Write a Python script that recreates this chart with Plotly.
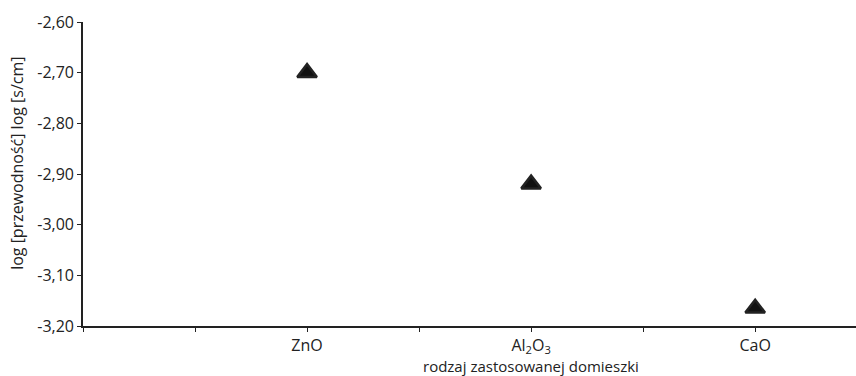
import plotly.graph_objects as go

# Dopants and measured log conductivity
dopants = ["ZnO", "Al<sub>2</sub>O<sub>3</sub>", "CaO"]
dopant_pos = [2, 4, 6]
log_conductivity = [-2.70, -2.92, -3.165]

# Axis ticks
y_ticks = [-3.20, -3.10, -3.00, -2.90, -2.80, -2.70, -2.60]
y_ticktext = [f"{v:.2f}".replace(".", ",") for v in y_ticks]

FONT = "Open Sans"
FS = 16

fig = go.Figure(
    go.Scatter(
        x=dopant_pos,
        y=log_conductivity,
        mode="markers",
        marker=dict(symbol="triangle-up", size=17, color="#111111",
                    line=dict(color="#222222", width=2.5)),
        showlegend=False,
        cliponaxis=False,
    )
)

fig.update_layout(
    width=856,
    height=376,
    margin=dict(l=83, r=0, t=22, b=50),
    paper_bgcolor="white",
    plot_bgcolor="white",
    font=dict(family=FONT, size=FS, color="#222222"),
    xaxis=dict(
        range=[0, 6.9],
        tickmode="array",
        tickvals=dopant_pos,
        ticktext=dopants,
        ticks="outside",
        ticklen=4,
        tickwidth=1.2,
        tickcolor="#222222",
        minor=dict(ticks="outside", ticklen=4, tickwidth=1.2, tickcolor="#222222",
                   tickmode="linear", tick0=0, dtick=1, showgrid=False),
        showgrid=False,
        zeroline=False,
        showline=True,
        linecolor="#222222",
        linewidth=1.6,
        tickfont=dict(size=FS),
    ),
    yaxis=dict(
        range=[-3.20, -2.60],
        tickmode="array",
        tickvals=y_ticks,
        ticktext=y_ticktext,
        ticks="outside",
        ticklen=4,
        tickwidth=1.2,
        tickcolor="#222222",
        showgrid=False,
        zeroline=False,
        showline=True,
        linecolor="#222222",
        linewidth=1.6,
        tickfont=dict(size=FS),
    ),
    annotations=[
        dict(
            text="log [przewodność] log [s/cm]",
            xref="paper", yref="y",
            x=0, y=-2.88, xshift=-66,
            xanchor="center", yanchor="middle",
            textangle=-90,
            showarrow=False,
            font=dict(size=FS),
        ),
        dict(
            text="rodzaj zastosowanej domieszki",
            xref="x", yref="paper",
            x=4, y=0, yshift=-40,
            xanchor="center", yanchor="middle",
            borderpad=0,
            showarrow=False,
            font=dict(size=15),
        ),
    ],
)

fig.write_html("out.html")
